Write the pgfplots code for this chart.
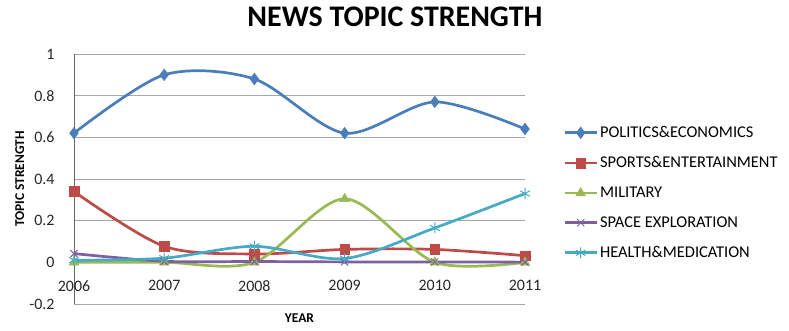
\documentclass[border=0pt]{standalone}
\usepackage{fontspec}
\setmainfont{Carlito}
\usepackage{pgfplots}
\pgfplotsset{compat=1.18}
\definecolor{cBlue}{HTML}{4A7EBB}
\definecolor{cRed}{HTML}{BE4B48}
\definecolor{cGreen}{HTML}{98B954}
\definecolor{cPurple}{HTML}{7D60A0}
\definecolor{cCyan}{HTML}{46AAC5}
\begin{document}
\begin{tikzpicture}
\path[use as bounding box] (-74bp,-27bp) rectangle (715bp,304bp);
\node[font=\bfseries\fontsize{30}{33}\selectfont] at (321bp,287.5bp) {NEWS TOPIC STRENGTH};
\begin{axis}[
  at={(0,0)}, anchor=south west,
  scale only axis, width=451bp, height=250bp,
  xmin=2006, xmax=2011, ymin=-0.2, ymax=1,
  xtick={2006,2007,2008,2009,2010,2011},
  xticklabels={2006,2007,2008,2009,2010,2011},
  ytick={-0.2,0,0.2,0.4,0.6,0.8,1},
  yticklabels={-0.2,0,0.2,0.4,0.6,0.8,1},
  separate axis lines,
  axis x line*=bottom, x axis line style={draw=none},
  axis y line*=left, y axis line style={draw=gray!80!black, line width=0.8bp, -},
  ymajorgrids, major grid style={draw=gray!70, line width=0.8bp},
  major tick length=0pt,
  tick label style={font=\fontsize{16}{18}\selectfont, text=black!85},
  xticklabel style={yshift=27bp},
  yticklabel style={xshift=-16bp},
  xlabel={\bfseries YEAR}, ylabel={\bfseries TOPIC STRENGTH},
  label style={font=\bfseries\fontsize{13.5}{15}\selectfont},
  xlabel style={at={(axis description cs:0.5,-0.056)}, anchor=center},
  ylabel style={at={(axis description cs:-0.12,0.5)}, anchor=center},
  every axis plot/.append style={smooth, line width=2.7bp},
  legend style={at={(1.078,0.727)}, anchor=north west, draw=none, fill=none,
    font=\fontsize{16.5}{19}\selectfont, row sep=13.6bp,
    /tikz/every even column/.append style={column sep=0bp}},
  legend cell align=left,
  legend image code/.code={\draw[mark repeat=2,mark phase=2] plot coordinates {(0bp,0bp) (16bp,0bp) (32bp,0bp)};},
  clip=false,
]
\addplot[color=cBlue, mark=diamond*, mark size=5.8bp, mark options={line width=0.5bp}] coordinates {
 (2006,0.62) (2007,0.90) (2008,0.88) (2009,0.62) (2010,0.77) (2011,0.64)};
\addlegendentry{POLITICS\&ECONOMICS}
\addplot[color=cRed, mark=square*, mark size=4.8bp, mark options={line width=0.5bp}] coordinates {
 (2006,0.34) (2007,0.077) (2008,0.04) (2009,0.062) (2010,0.062) (2011,0.032)};
\addlegendentry{SPORTS\&ENTERTAINMENT}
\addplot[color=cGreen, mark=triangle*, mark size=5.5bp, mark options={line width=0.5bp}] coordinates {
 (2006,0.0) (2007,0.0) (2008,0.0) (2009,0.305) (2010,0.0) (2011,0.0)};
\addlegendentry{MILITARY}
\addplot[color=cPurple, mark=x, mark size=5bp, mark options={line width=1bp}] coordinates {
 (2006,0.042) (2007,0.005) (2008,0.004) (2009,0.002) (2010,0.002) (2011,0.001)};
\addlegendentry{SPACE EXPLORATION}
\addplot[color=cCyan, mark=asterisk, mark size=5.5bp, mark options={line width=1bp}] coordinates {
 (2006,0.01) (2007,0.02) (2008,0.077) (2009,0.018) (2010,0.165) (2011,0.33)};
\addlegendentry{HEALTH\&MEDICATION}
\end{axis}
\end{tikzpicture}
\end{document}
